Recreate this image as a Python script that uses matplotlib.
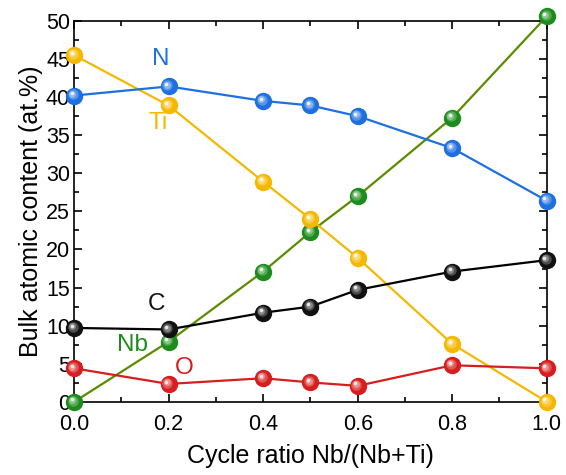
import matplotlib.pyplot as plt
import matplotlib.transforms as mtransforms
import matplotlib.colors as mcolors
import numpy as np

plt.rcParams['font.family'] = ['Liberation Sans', 'DejaVu Sans']

ratio = [0.0, 0.2, 0.4, 0.5, 0.6, 0.8, 1.0]
n_vals = [40.2, 41.4, 39.5, 38.9, 37.5, 33.3, 26.4]
ti_vals = [45.5, 38.9, 28.9, 24.0, 18.9, 7.6, 0.0]
nb_vals = [0.0, 7.9, 17.1, 22.3, 27.0, 37.3, 50.6]
c_vals = [9.7, 9.5, 11.7, 12.5, 14.7, 17.1, 18.6]
o_vals = [4.4, 2.35, 3.1, 2.55, 2.1, 4.8, 4.4]

series = [
    # values, line colour, marker colour, label, label x, label y
    (nb_vals, '#5b8c00', '#1c8c1c', 'Nb', 0.124, 7.5),
    (ti_vals, '#f5b800', '#f5b800', 'Ti', 0.178, 36.6),
    (n_vals, '#1e6fe0', '#1e6fe0', 'N', 0.184, 45.0),
    (c_vals, '#000000', '#111111', 'C', 0.175, 12.8),
    (o_vals, '#d61e1e', '#d61e1e', 'O', 0.233, 4.5),
]

fig = plt.figure(figsize=(5.66, 4.75), dpi=100)
ax = fig.add_axes([0.131, 0.154, 0.835, 0.802])


def sphere(ax, x, y, col, z):
    # fake the shaded ball marker with a few stacked circles
    ax.plot(x, y, 'o', ms=11.5, color=col, mec=col, clip_on=False, zorder=z)
    rgb = mcolors.to_rgb(col)
    for k, (sz, mix, dx) in enumerate([(7.5, 0.25, 0.9), (5, 0.5, 1.3), (2.6, 0.9, 1.7)]):
        c = tuple((1 - mix) * v + mix for v in rgb)
        off = mtransforms.offset_copy(ax.transData, fig=fig, x=-dx, y=dx, units='points')
        ax.plot(x, y, 'o', ms=sz, color=c, mec='none', transform=off,
                clip_on=False, zorder=z + 0.1 * (k + 1))


for i, (vals, lc, mc, lab, lx, ly) in enumerate(series):
    ax.plot(ratio, vals, '-', color=lc, lw=1.6, zorder=2 + i)
    sphere(ax, ratio, vals, mc, 10 + i)
    ax.text(lx, ly, lab, color=mc, fontsize=17.5, ha='center', va='center')

ax.set_xlim(0, 1)
ax.set_ylim(0, 50)
ax.set_xticks(np.arange(0, 1.01, 0.2))
ax.set_xticks(np.arange(0.1, 1.0, 0.2), minor=True)
ax.set_yticks(range(0, 51, 5))
ax.set_yticks(np.arange(2.5, 50, 5), minor=True)
ax.tick_params(which='both', direction='in', top=True, right=True, labelsize=15.5,
               width=1.2)
ax.tick_params(axis='x', pad=8.5)
ax.tick_params(axis='y', pad=3)
ax.tick_params(which='major', length=6)
ax.tick_params(which='minor', length=3.5)
for s in ax.spines.values():
    s.set_linewidth(1.2)
ax.set_xlabel('Cycle ratio Nb/(Nb+Ti)', fontsize=18, labelpad=7)
ax.set_ylabel('Bulk atomic content (at.%)', fontsize=18, labelpad=2)

fig.savefig('out.png', dpi=100)
